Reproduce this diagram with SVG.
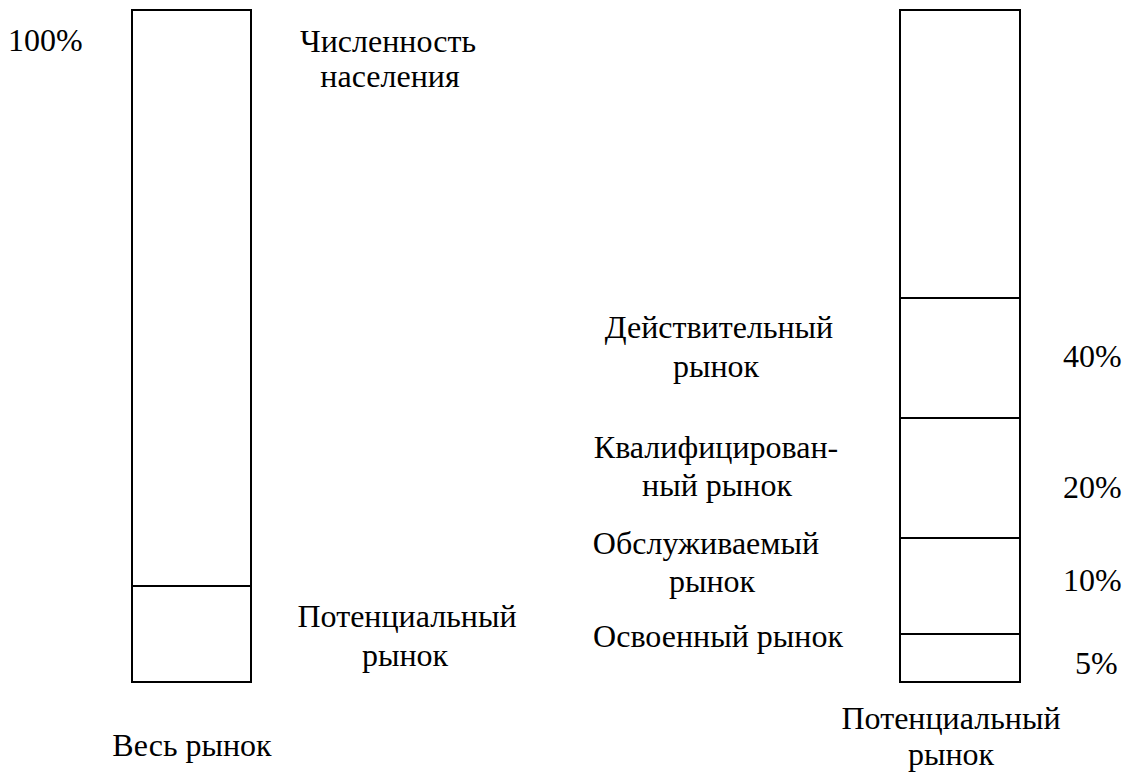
<svg xmlns="http://www.w3.org/2000/svg" width="1141" height="774" viewBox="0 0 1141 774">
<style>
text{font-family:"Liberation Serif","Times New Roman",serif;font-size:32px;fill:#000}
.m{text-anchor:middle}
.bar{fill:#fff;stroke:#000;stroke-width:2}
line{stroke:#000;stroke-width:2}
</style>
<rect width="1141" height="774" fill="#fff"/>
<g id="left-bar">
<rect class="bar" x="132" y="10" width="119" height="672"/>
<line x1="132" y1="586" x2="251" y2="586"/>
</g>
<g id="right-bar">
<rect class="bar" x="900" y="10" width="120" height="672"/>
<line x1="900" y1="298" x2="1020" y2="298"/>
<line x1="900" y1="418" x2="1020" y2="418"/>
<line x1="900" y1="538" x2="1020" y2="538"/>
<line x1="900" y1="634" x2="1020" y2="634"/>
</g>
<g id="labels">
<text x="8" y="51">100%</text>
<text class="m" x="388" y="52">Численность</text>
<text class="m" x="390" y="87">населения</text>
<text class="m" x="407" y="627">Потенциальный</text>
<text class="m" x="405" y="666">рынок</text>
<text class="m" x="192" y="756">Весь рынок</text>
<text class="m" x="719" y="338">Действительный</text>
<text class="m" x="716" y="377">рынок</text>
<text class="m" x="716" y="458">Квалифицирован-</text>
<text class="m" x="717" y="496">ный рынок</text>
<text class="m" x="706" y="554">Обслуживаемый</text>
<text class="m" x="712" y="592">рынок</text>
<text class="m" x="718" y="647">Освоенный рынок</text>
<text x="1063" y="367">40%</text>
<text x="1063" y="498">20%</text>
<text x="1063" y="591">10%</text>
<text x="1075" y="674">5%</text>
<text class="m" x="951" y="729">Потенциальный</text>
<text class="m" x="951" y="765">рынок</text>
</g>
</svg>
